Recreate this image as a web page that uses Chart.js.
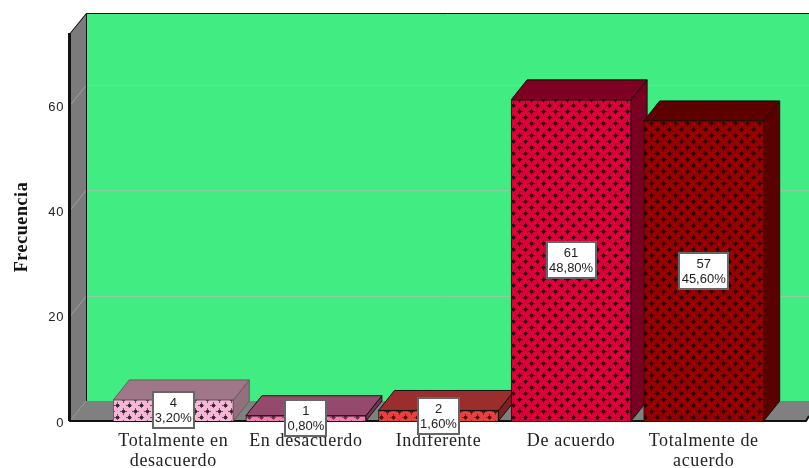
<!DOCTYPE html>
<html>
<head>
<meta charset="utf-8">
<script src="https://cdn.jsdelivr.net/npm/chart.js@4/dist/chart.umd.min.js"></script>
<style>
  html, body { margin: 0; padding: 0; background: #fff; }
  canvas { display: block; }
</style>
</head>
<body>
<canvas id="chart" width="809" height="468"></canvas>
<script>
const categories = [["Totalmente en", "desacuerdo"], "En desacuerdo", "Indiferente", "De acuerdo", ["Totalmente de", "acuerdo"]];
const counts = [4, 1, 2, 61, 57];
const percents = ["3,20%", "0,80%", "1,60%", "48,80%", "45,60%"];
const yTicks = [0, 20, 40, 60];

const faceColors = ["#f6b6d6", "#ee7fae", "#e8403f", "#dc0038", "#960000"];
const crossColors = ["#3a2030", "#7a2a50", "#5a0f10", "#3c0012", "#2c0000"];
const topColors = ["#a07789", "#95496c", "#9a2e2e", "#7d0022", "#5e0000"];
const sideColors = ["#94707f", "#7a3358", "#7c2020", "#7a0022", "#5a0000"];
const edgeColors = ["#6a5a62", "#111", "#111", "#111", "#111"];

const DEPTH_X = 16;
const DEPTH_Y = 20;

// the crossed hatch used on the front of each bar
function makePattern(face, cross) {
  const size = 12;
  const tile = document.createElement("canvas");
  tile.width = size;
  tile.height = size;
  const c = tile.getContext("2d");
  c.fillStyle = face;
  c.fillRect(0, 0, size, size);
  c.fillStyle = cross;
  [[3, 3], [9, 9]].forEach(([x, y]) => {
    c.globalAlpha = 0.7;
    c.fillRect(x, y - 3, 1, 7);
    c.fillRect(x - 3, y, 7, 1);
    c.globalAlpha = 0.9;
    c.fillRect(x - 1, y - 1, 3, 3);
  });
  return c.createPattern(tile, "repeat");
}

function poly(ctx, pts, fill, stroke) {
  ctx.beginPath();
  pts.forEach(([x, y], i) => (i ? ctx.lineTo(x, y) : ctx.moveTo(x, y)));
  ctx.closePath();
  if (fill) {
    ctx.fillStyle = fill;
    ctx.fill();
  }
  if (stroke) {
    ctx.strokeStyle = stroke;
    ctx.lineWidth = 1;
    ctx.stroke();
  }
}

const box3d = {
  id: "box3d",
  beforeDraw(chart) {
    // wider text, same as the original export
    chart.ctx.letterSpacing = "0.6px";
  },
  beforeDatasetsDraw(chart) {
    const ctx = chart.ctx;
    ctx.letterSpacing = "0px";
    const yScale = chart.scales.y;
    const bottom = chart.chartArea.bottom;
    const top = chart.chartArea.top;
    const left = 70;
    const right = 806;
    const W = chart.width;

    ctx.save();
    // back wall
    poly(ctx, [[left + DEPTH_X, top - DEPTH_Y], [W + 20, top - DEPTH_Y], [W + 20, bottom - DEPTH_Y], [left + DEPTH_X, bottom - DEPTH_Y]], "#41ec82", null);
    // left wall and floor
    poly(ctx, [[left, top], [left + DEPTH_X, top - DEPTH_Y], [left + DEPTH_X, bottom - DEPTH_Y], [left, bottom]], "#7b7b7b", null);
    poly(ctx, [[left, bottom], [left + DEPTH_X, bottom - DEPTH_Y], [right + DEPTH_X, bottom - DEPTH_Y], [right, bottom]], "#808080", null);

    // grid lines, one part on the side wall and one on the back wall
    yTicks.slice(1).forEach(v => {
      const y = Math.round(yScale.getPixelForValue(v)) + 0.5;
      ctx.lineWidth = 1;
      ctx.strokeStyle = "#a0a0a0";
      ctx.beginPath();
      ctx.moveTo(left, y);
      ctx.lineTo(left + DEPTH_X, y - DEPTH_Y);
      ctx.stroke();
      ctx.strokeStyle = "#8fcda2";
      ctx.beginPath();
      ctx.moveTo(left + DEPTH_X, y - DEPTH_Y);
      ctx.lineTo(W, y - DEPTH_Y);
      ctx.stroke();
    });

    // frame
    ctx.strokeStyle = "#111";
    ctx.lineWidth = 1;
    ctx.beginPath();
    ctx.moveTo(left + 0.5, bottom);
    ctx.lineTo(left + 0.5, top);
    ctx.lineTo(left + DEPTH_X + 0.5, top - DEPTH_Y + 0.5);
    ctx.lineTo(W, top - DEPTH_Y + 0.5);
    ctx.moveTo(left + DEPTH_X + 0.5, top - DEPTH_Y);
    ctx.lineTo(left + DEPTH_X + 0.5, bottom - DEPTH_Y);
    ctx.stroke();
    ctx.lineWidth = 2;
    ctx.beginPath();
    ctx.moveTo(left - 1, bottom);
    ctx.lineTo(left - 1, top);
    ctx.moveTo(left - 1, bottom);
    ctx.lineTo(right, bottom);
    ctx.lineTo(W, bottom - 5);
    ctx.stroke();

    // top and side of each bar, the fronts go over these
    chart.getDatasetMeta(0).data.forEach((bar, i) => {
      const x0 = bar.x - bar.width / 2;
      const x1 = bar.x + bar.width / 2;
      const y0 = bar.y;
      const y1 = bar.base;
      poly(ctx, [[x1, y0], [x1 + DEPTH_X, y0 - DEPTH_Y], [x1 + DEPTH_X, y1 - DEPTH_Y], [x1, y1]], sideColors[i], edgeColors[i]);
      poly(ctx, [[x0, y0], [x0 + DEPTH_X, y0 - DEPTH_Y], [x1 + DEPTH_X, y0 - DEPTH_Y], [x1, y0]], topColors[i], edgeColors[i]);
    });
    ctx.restore();
  },
  afterDatasetsDraw(chart) {
    const ctx = chart.ctx;
    ctx.save();
    ctx.font = "13px 'Liberation Sans'";
    ctx.textAlign = "center";
    ctx.textBaseline = "middle";
    chart.getDatasetMeta(0).data.forEach((bar, i) => {
      const cy = Math.round((bar.y + bar.base) / 2);
      const w = Math.ceil(ctx.measureText(percents[i]).width) + 4;
      const h = 36;
      const x = Math.round(bar.x - w / 2);
      const y = cy - 18;
      ctx.fillStyle = "#fff";
      ctx.fillRect(x, y, w, h);
      ctx.strokeStyle = "#666";
      ctx.lineWidth = 2;
      ctx.strokeRect(x, y, w, h);
      ctx.fillStyle = "#222";
      ctx.fillText(String(counts[i]), bar.x, cy - 7);
      ctx.fillText(percents[i], bar.x, cy + 8);
    });
    ctx.restore();
  }
};

new Chart(document.getElementById("chart"), {
  type: "bar",
  data: {
    labels: categories,
    datasets: [{
      data: counts,
      backgroundColor: faceColors.map((f, i) => makePattern(f, crossColors[i])),
      borderColor: edgeColors,
      borderWidth: 1,
      barThickness: 120
    }]
  },
  options: {
    responsive: false,
    animation: false,
    layout: { padding: { top: 33, right: 39, bottom: 0, left: 0 } },
    plugins: {
      legend: { display: false },
      tooltip: { enabled: false }
    },
    scales: {
      x: {
        grid: { display: false, drawTicks: false },
        border: { display: false },
        afterFit: (scale) => { scale.height = 47; },
        ticks: {
          autoSkip: false,
          maxRotation: 0,
          padding: 10,
          color: "#222",
          font: { family: "'Liberation Serif'", size: 18, lineHeight: 1.12 }
        }
      },
      y: {
        min: 0,
        max: 73.7,
        grid: { display: false, drawTicks: false },
        border: { display: false },
        afterFit: (scale) => {
          scale.width = 107;
          // tick padding leaks into these otherwise
          scale.paddingTop = 0;
          scale.paddingBottom = 0;
        },
        afterBuildTicks: (scale) => { scale.ticks = yTicks.map(v => ({ value: v })); },
        title: {
          display: true,
          text: "Frecuencia",
          color: "#111",
          font: { family: "'Liberation Serif'", size: 18, weight: "bold" },
          padding: { top: 12, bottom: 0 }
        },
        ticks: {
          padding: 43,
          labelOffset: 2,
          color: "#222",
          font: { family: "'Liberation Sans'", size: 13 }
        }
      }
    }
  },
  plugins: [box3d]
});
</script>
</body>
</html>
